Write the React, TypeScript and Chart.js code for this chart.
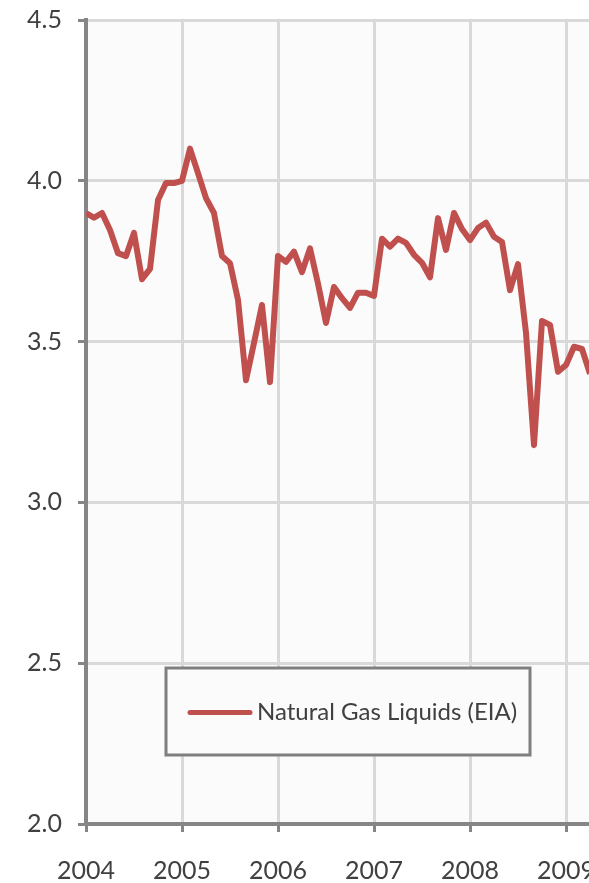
import React, { useEffect, useRef } from "react";
import { Chart, registerables } from "chart.js";

Chart.register(...registerables);

const startYear = 2004;
const seriesLabel = "Natural Gas Liquids (EIA)";
// Monthly values, Jan 2004 onward (million barrels per day)
const values2004 = [3.9, 3.885, 3.9, 3.847, 3.775, 3.766, 3.838, 3.694, 3.726, 3.94, 3.993, 3.993];
const values2005 = [4.0, 4.1, 4.024, 3.946, 3.9, 3.766, 3.744, 3.63, 3.38, 3.496, 3.614, 3.374];
const values2006 = [3.766, 3.748, 3.78, 3.716, 3.79, 3.68, 3.558, 3.67, 3.635, 3.605, 3.652, 3.652];
const values2007 = [3.642, 3.82, 3.795, 3.82, 3.807, 3.77, 3.745, 3.7, 3.884, 3.785, 3.9, 3.85];
const values2008 = [3.816, 3.853, 3.87, 3.826, 3.81, 3.66, 3.741, 3.527, 3.178, 3.564, 3.552, 3.406];
const values2009 = [3.427, 3.484, 3.477, 3.4];
const values = [...values2004, ...values2005, ...values2006, ...values2007, ...values2008, ...values2009];

const xMin = 2004;
const xMax = 2010;
const yMin = 2.0;
const yMax = 4.5;
const yStep = 0.5;

const LINE_COLOR = "#c0504d";
const AXIS_COLOR = "#868686";
const GRID_COLOR = "#d9d9d9";
const TEXT_COLOR = "#404040";
const FONT = "Lato";

export default function App() {
  const ref = useRef<HTMLCanvasElement | null>(null);

  useEffect(() => {
    const canvas = ref.current;
    if (!canvas) return;
    const points = values.map((v, i) => ({ x: startYear + i / 12, y: v }));

    const bgPlugin = {
      id: "bg",
      beforeDraw(chart: any) {
        const { ctx, chartArea } = chart;
        ctx.save();
        ctx.fillStyle = "#fbfbfb";
        ctx.fillRect(chartArea.left, chartArea.top, chartArea.right - chartArea.left, chartArea.bottom - chartArea.top);
        ctx.restore();
      },
    };

    const legendPlugin = {
      id: "boxLegend",
      afterDraw(chart: any) {
        const { ctx, chartArea } = chart;
        const bx = chartArea.left + 80;
        const by = chartArea.bottom - 156;
        const bw = 364;
        const bh = 87;
        ctx.save();
        ctx.fillStyle = "#fbfbfb";
        ctx.fillRect(bx, by, bw, bh);
        ctx.strokeStyle = "#7f7f7f";
        ctx.lineWidth = 3;
        ctx.strokeRect(bx, by, bw, bh);
        const cy = by + bh / 2 + 1;
        ctx.strokeStyle = LINE_COLOR;
        ctx.lineWidth = 5;
        ctx.lineCap = "round";
        ctx.beginPath();
        ctx.moveTo(bx + 24, cy);
        ctx.lineTo(bx + 84, cy);
        ctx.stroke();
        ctx.fillStyle = TEXT_COLOR;
        ctx.font = `24px ${FONT}`;
        ctx.textBaseline = "middle";
        ctx.textAlign = "left";
        ctx.fillText(chart.data.datasets[0].label, bx + 91, cy);
        ctx.restore();
      },
    };

    const chart = new Chart(canvas, {
      type: "line",
      data: {
        datasets: [
          {
            label: seriesLabel,
            data: points,
            borderColor: LINE_COLOR,
            borderWidth: 6,
            pointRadius: 0,
            tension: 0,
            borderJoinStyle: "round",
            borderCapStyle: "butt",
            fill: false,
          },
        ],
      },
      options: {
        animation: false,
        responsive: false,
        maintainAspectRatio: false,
        layout: { padding: { left: 0, top: 20, right: 58, bottom: 0 } },
        plugins: { legend: { display: false }, tooltip: { enabled: false } },
        scales: {
          x: {
            type: "linear",
            min: xMin,
            max: xMax,
            afterFit(scale: any) {
              scale.height = 59;
              scale.paddingLeft = 0;
              scale.paddingRight = 0;
            },
            ticks: {
              stepSize: 1,
              padding: 24,
              color: TEXT_COLOR,
              font: { family: FONT, size: 25 },
              maxRotation: 0,
              callback: (v: any) => String(Math.round(Number(v))),
            },
            grid: {
              color: GRID_COLOR,
              lineWidth: 3,
              tickColor: AXIS_COLOR,
              tickWidth: 3,
              tickLength: 8,
            },
            border: { color: AXIS_COLOR, width: 4 },
          },
          y: {
            min: yMin,
            max: yMax,
            afterFit(scale: any) {
              scale.width = 86;
              scale.paddingTop = 0;
              scale.paddingBottom = 0;
            },
            ticks: {
              stepSize: yStep,
              padding: 16,
              color: TEXT_COLOR,
              font: { family: FONT, size: 25 },
              callback: (v: any) => Number(v).toFixed(1),
            },
            grid: {
              color: GRID_COLOR,
              lineWidth: 3,
              tickColor: AXIS_COLOR,
              tickWidth: 3,
              tickLength: 8,
            },
            border: { color: AXIS_COLOR, width: 4 },
          },
        },
      },
      plugins: [bgPlugin, legendPlugin],
    });
    return () => chart.destroy();
  }, []);

  return (
    <div style={{ position: "fixed", left: 0, top: 0, width: 589, height: 883, overflow: "hidden", background: "#ffffff" }}>
      <canvas ref={ref} width={720} height={883} style={{ display: "block", width: 720, height: 883 }} />
    </div>
  );
}
